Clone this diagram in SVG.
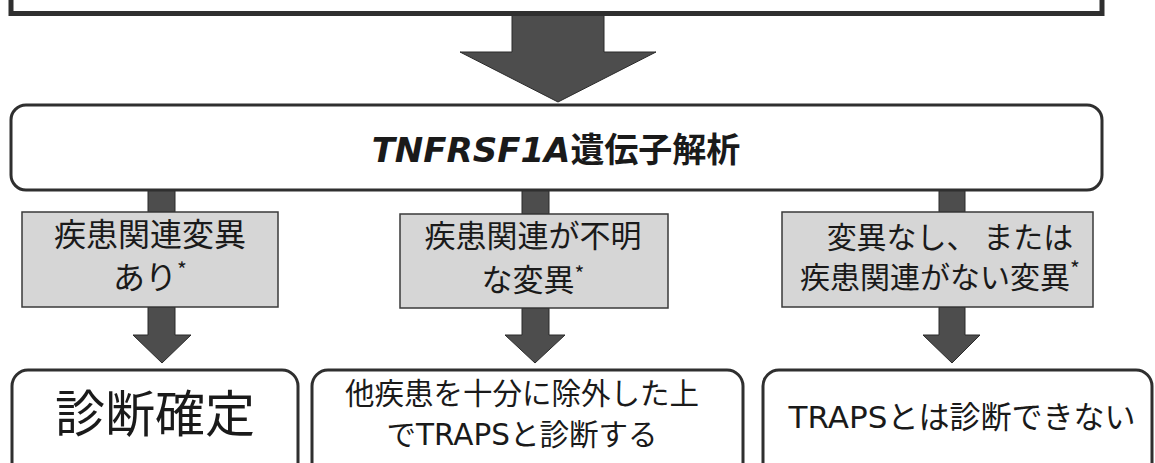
<svg xmlns="http://www.w3.org/2000/svg" width="1155" height="463" viewBox="0 0 1155 463">
<style>
.frame{fill:#fff;stroke:#2f2f2f;stroke-width:3}
.grey{fill:#d6d6d6;stroke:#3a3a3a;stroke-width:1.5}
.arrow{fill:#4d4d4d;stroke:#2a2a2a;stroke-width:1}
.t{font-family:"Noto Sans CJK JP","Noto Sans CJK SC",sans-serif;fill:#1a1a1a;text-anchor:middle}
.lat{font-family:"DejaVu Sans","Noto Sans CJK JP",sans-serif}
.ast{font-size:21px}
</style>
<rect width="1155" height="463" fill="#fff"/>
<g id="connectors">
  <polygon class="arrow" points="512,13 604,13 604,52 656,52 558,102 460,52 512,52"/>
  <rect class="arrow" x="148" y="190" width="27" height="22"/>
  <rect class="arrow" x="522" y="190" width="27" height="24"/>
  <rect class="arrow" x="939" y="190" width="26" height="22"/>
  <polygon class="arrow" points="148,307 175,307 175,335 191,335 162,363 133,335 148,335"/>
  <polygon class="arrow" points="522,308 549,308 549,335 565,335 535,363 505,335 522,335"/>
  <polygon class="arrow" points="939,307 965,307 965,335 980,335 952,363 923,335 939,335"/>
</g>
<g id="top-box">
  <rect x="11" y="-30" width="1091" height="43.5" fill="#fff" stroke="#2f2f2f" stroke-width="5"/>
</g>
<g id="analysis">
  <rect class="frame" x="11" y="105" width="1091" height="85" rx="15"/>
  <text class="t" x="556" y="162" font-size="34" font-weight="bold"><tspan class="lat" font-style="italic">TNFRSF1A</tspan>遺伝子解析</text>
</g>
<g id="result-pathogenic">
  <rect class="grey" x="22" y="212" width="256" height="95"/>
  <text class="t" x="150" y="246" font-size="32">疾患関連変異</text>
  <text class="t" x="150" y="289" font-size="32">あり<tspan class="ast" dy="-11">*</tspan></text>
</g>
<g id="result-unknown">
  <rect class="grey" x="400" y="214" width="268" height="94"/>
  <text class="t" x="533" y="247" font-size="31">疾患関連が不明</text>
  <text class="t" x="533" y="291" font-size="31">な変異<tspan class="ast" dy="-9">*</tspan></text>
</g>
<g id="result-none">
  <rect class="grey" x="782" y="212" width="311" height="95"/>
  <text class="t" x="950" y="248" font-size="30">変異なし、 または</text>
  <text class="t" x="940" y="288" font-size="30">疾患関連がない変異<tspan class="ast" dy="-11">*</tspan></text>
</g>
<g id="diagnosis-confirmed">
  <rect class="frame" x="12" y="370" width="286" height="120" rx="16"/>
  <text class="t" x="155" y="432" font-size="50">診断確定</text>
</g>
<g id="diagnosis-exclusion">
  <rect class="frame" x="312" y="370" width="431" height="120" rx="16"/>
  <text class="t" x="522" y="404" font-size="29.5">他疾患を十分に除外した上</text>
  <text class="t" x="522" y="445" font-size="29.5">で<tspan class="lat">TRAPS</tspan>と診断する</text>
</g>
<g id="diagnosis-not">
  <rect class="frame" x="763" y="370" width="389" height="120" rx="16"/>
  <text class="t" x="962" y="428" font-size="31"><tspan class="lat">TRAPS</tspan>とは診断できない</text>
</g>
</svg>
